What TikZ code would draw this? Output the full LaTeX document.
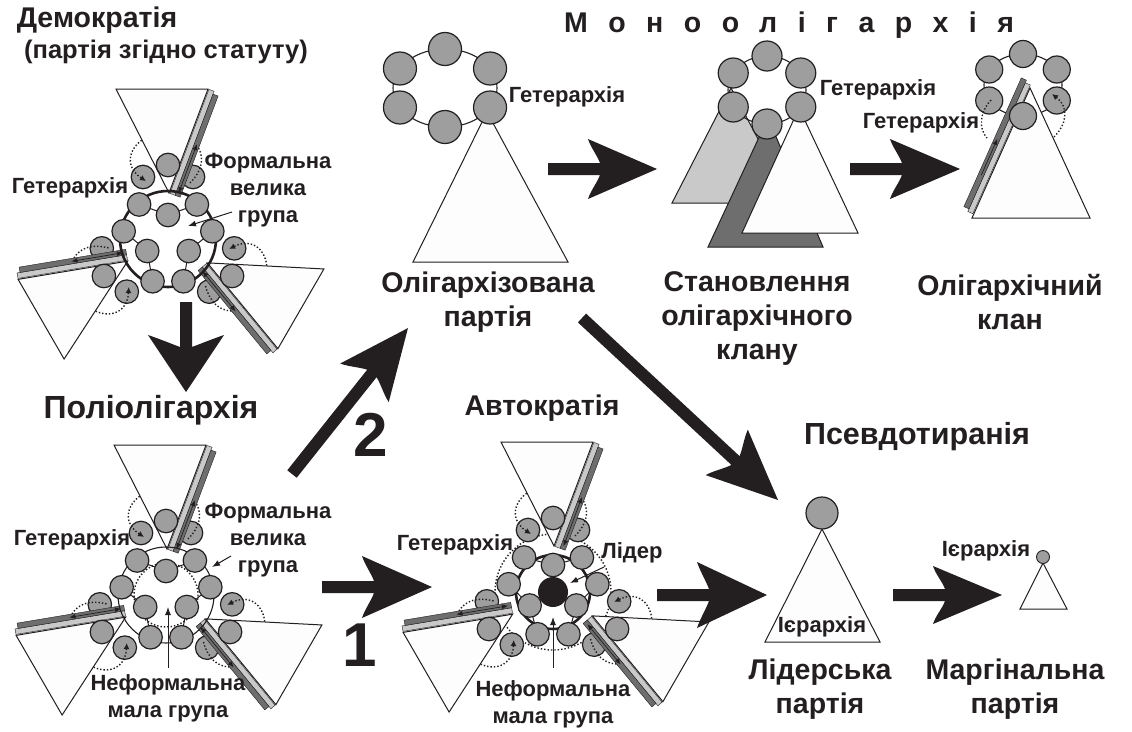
\documentclass[tikz,border=0pt]{standalone}
\usepackage{fontspec}
\setmainfont{Liberation Sans}
\usetikzlibrary{arrows.meta,calc}

\definecolor{ink}{RGB}{35,31,32}
\definecolor{ballgray}{RGB}{158,158,158}
\definecolor{stripelight}{RGB}{200,201,200}
\definecolor{stripedark}{RGB}{110,110,110}
\definecolor{paper}{RGB}{253,253,253}

\newcommand\fatarrow[4]{%
  \path let \p1=($(#2)-(#1)$) in
    \pgfextra{\pgfmathsetmacro\fatang{atan2(\y1,\x1)}\pgfmathsetmacro\fatlen{veclen(\x1,\y1)}\global\let\fatang\fatang\global\let\fatlen\fatlen};
  \fill[ink,shift={(#1)},rotate=\fatang]
    (0,-6) -- ({\fatlen-#3+12},-6)
    .. controls ({\fatlen-#3+9},-14) and ({\fatlen-#3+3},{-#4+9}) .. ({\fatlen-#3},-#4)
    -- (\fatlen,0) -- ({\fatlen-#3},#4)
    .. controls ({\fatlen-#3+3},{#4-9}) and ({\fatlen-#3+9},14) .. ({\fatlen-#3+12},6)
    -- (0,6) -- cycle;}

\tikzset{
  branchback/.pic={
    \node[ball] (-l) at (-25,-62) {};
    \node[ball] (-r) at (25,-62) {};
    \draw[loopdots,-{Latex[length=6pt,width=6pt]}] (22,-56) .. controls (46,-80) and (30,-106) .. (-2,-106) .. controls (-34,-106) and (-50,-76) .. (-22,-58);
    \filldraw[tri] (-52,-150) -- (40,-150) -- (1,-46) -- cycle;
    \filldraw[fill=stripelight,draw=ink,line width=0.4pt] (40.9,-149.6) -- (46.1,-147.7) -- (7.1,-43.7) -- (1.9,-45.6) -- cycle;
    \filldraw[fill=stripedark,draw=ink,line width=0.4pt] (45,-144.9) -- (50.1,-143) -- (12.2,-41.8) -- (7.1,-43.7) -- cycle;
    \draw[ink,line width=0.7pt,{Latex[length=6pt,width=5pt]}-{Latex[length=6pt,width=5pt]}] (28.9,-94.8) -- (10.6,-45.9);
    \node[ball] (-t) at (0,-74) {};
  },
  branchfront/.pic={
    \draw[ink,line width=1pt] (-28.9,-34.5) -- (0,-#1) -- (28.9,-34.5);
    \node[ball] (-a) at (-28.9,-34.5) {};
    \node[ball] (-b) at (28.9,-34.5) {};
    \node[ball] (-c) at (0,-#1) {};
  }
}

\begin{document}
\begin{tikzpicture}[x=1pt,y=-1pt,
    ball/.style={circle,draw=ink,fill=ballgray,line width=1.2pt,inner sep=0pt,minimum size=23.5pt},
    tri/.style={draw=ink,fill=paper,line width=1pt},
    loopdots/.style={draw=ink,line width=1.4pt,dotted},
    lbl/.style={draw=ink,line width=1pt,-{Latex[length=8pt,width=6pt]}},
    title/.style={text=ink,font=\fontsize{28.5}{34}\selectfont\bfseries,align=center,inner sep=0pt},
    small/.style={text=ink,font=\fontsize{22}{27}\selectfont\bfseries,align=center,inner sep=0pt}]

  \useasboundingbox (0,0) rectangle (1132,731);
  \fill[white] (0,0) rectangle (1132,731);

  \coordinate (c1) at (168,239);
  \coordinate (c2) at (166,595);
  \coordinate (c3) at (553,592);

  % democracy
  \foreach \a in {0,120,240} \pic[rotate=\a] (demb\a) at (c1) {branchback};
  \draw[ink,line width=2.6pt] (c1) circle (48);
  \foreach \a in {0,120,240} \pic[rotate=\a] (demf\a) at (c1) {branchfront=24};

  % polyoligarchy
  \foreach \a in {0,120,240} \pic[rotate=\a] (polb\a) at (c2) {branchback};
  \draw[ink,line width=1.1pt] (c2) circle (48);
  \draw[loopdots] (c2) circle (32);
  \foreach \a in {0,120,240} \pic[rotate=\a] (polf\a) at (c2) {branchfront=24};

  % autocracy
  \draw[loopdots] (c3) circle (58);
  \foreach \a in {0,120,240} \pic[rotate=\a] (autb\a) at (c3) {branchback};
  \draw[ink,line width=2.6pt] (c3) circle (37);
  \foreach \a in {0,120,240} \pic[rotate=\a] (autf\a) at (c3) {branchfront=27};
  \node[circle,fill=ink,inner sep=0pt,minimum size=30pt] (leader) at (c3) {};

  % oligarchised party
  \coordinate (op) at (445,88);
  \filldraw[tri] (487,112) -- (413,262) -- (568,262) -- cycle;
  \draw[ink,line width=1.1pt] (op) ellipse [x radius=52, y radius=39];
  \foreach \i in {1,...,6}
    \node[ball,minimum size=33pt] (op\i) at ($(op)+({52*cos(60*\i-30)},{39*sin(60*\i-30)})$) {};

  % clan in the making
  \coordinate (cl) at (767,90);
  \filldraw[draw=ink,fill=stripelight,line width=1pt] (731,88) -- (672,203) -- (792,203) -- cycle;
  \filldraw[draw=ink,fill=stripedark,line width=1pt] (768,118) -- (708,247) -- (823,247) -- cycle;
  \filldraw[tri] (799,108) -- (742,233) -- (858,233) -- cycle;
  \draw[ink,line width=1.1pt] (cl) ellipse [x radius=39, y radius=34];
  \foreach \i in {1,...,6}
    \node[ball,minimum size=30pt] (cl\i) at ($(cl)+({39*cos(60*\i-30)},{34*sin(60*\i-30)})$) {};

  % oligarchic clan
  \coordinate (kl) at (1023,85);
  \draw[ink,line width=1.1pt] (kl) ellipse [x radius=39, y radius=31];
  \foreach \i in {1,3,4,5,6}
    \node[ball,minimum size=27pt] (kl\i) at ($(kl)+({39*cos(60*\i-30)},{31*sin(60*\i-30)})$) {};
  \draw[loopdots] (991,100) .. controls (980,112) and (978,128) .. (987,138);
  \draw[loopdots,-{Latex[length=6pt,width=6pt]}] (1054,137) .. controls (1066,125) and (1070,108) .. (1052,94);
  \filldraw[tri] (1030,88) -- (972,218) -- (1090,218) -- cycle;
  \filldraw[fill=stripelight,draw=ink,line width=0.4pt] (1030.3,85) -- (1025.3,82.8) -- (967.8,211.5) -- (972.8,213.7) -- cycle;
  \filldraw[fill=stripedark,draw=ink,line width=0.4pt] (1026.4,80.2) -- (1021.3,77.9) -- (963.9,206.6) -- (969,208.9) -- cycle;
  \draw[ink,line width=0.7pt,-{Latex[length=6pt,width=5pt]}] (981.2,175.3) -- (997.4,138.9);
  \node[ball,minimum size=27pt] (kl2) at ($(kl)+(0,31)$) {};

  % leader party and marginal party
  \filldraw[tri] (822,529) -- (765,642) -- (880,642) -- cycle;
  \node[ball,minimum size=32pt] (lp) at (822,513) {};
  \filldraw[tri] (1043,563) -- (1020,609) -- (1067,609) -- cycle;
  \node[ball,minimum size=13pt,line width=0.9pt] (mp) at (1043,557) {};

  % titles
  \node[title] (demtitle) at (97,20) {Демократія};
  \node[title,font=\fontsize{25.5}{30}\selectfont\bfseries] (statut) at (166,52) {(партія згідно статуту)};
  \node[title,font=\fontsize{32}{38}\selectfont\bfseries] (poltitle) at (151,410) {Поліолігархія};
  \node[title] (auttitle) at (542,408) {Автократія};
  \node[title,font=\fontsize{30.5}{36}\selectfont\bfseries] (psetitle) at (917,437) {Псевдотиранія};
  \node[title] (monotitle) at (789,25) {\addfontfeature{LetterSpace=72}Моноолігархія};
  \node[title] (optitle) at (488,302) {Олігархізована\\партія};
  \node[title] (cltitle) at (757,319) {Становлення\\олігархічного\\клану};
  \node[title] (kltitle) at (1010,302) {Олігархічний\\клан};
  \node[title] (lptitle) at (820,689) {Лідерська\\партія};
  \node[title] (mptitle) at (1015,689) {Маргінальна\\партія};
  \node[title,font=\fontsize{62}{62}\selectfont\bfseries] (one) at (360,645) {1};
  \node[title,font=\fontsize{62}{62}\selectfont\bfseries] (two) at (371,435) {2};

  % small labels
  \node[small] (het1) at (70,188) {Гетерархія};
  \node[small] (form1) at (268,190) {Формальна\\велика\\група};
  \node[small] (het2) at (72,540) {Гетерархія};
  \node[small] (form2) at (268,540) {Формальна\\велика\\група};
  \node[small] (inf2) at (168,698) {Неформальна\\мала група};
  \node[small] (het3) at (455,545) {Гетерархія};
  \node[small] (lid3) at (632,553) {Лідер};
  \node[small] (inf3) at (553,704) {Неформальна\\мала група};
  \node[small] (hetop) at (567,97) {Гетерархія};
  \node[small] (hetcl) at (878,90) {Гетерархія};
  \node[small] (hetkl) at (921,123) {Гетерархія};
  \node[small] (ierlp) at (822,627) {Ієрархія};
  \node[small] (iermp) at (986,551) {Ієрархія};

  % label pointers
  \coordinate (f1a) at (232,212); \coordinate (f1b) at (188,226);
  \coordinate (f2a) at (231,556); \coordinate (f2b) at (212,567);
  \coordinate (n2a) at (168,668); \coordinate (n2b) at (168,607);
  \coordinate (l3a) at (604,567); \coordinate (l3b) at (570,583);
  \coordinate (n3a) at (553,668); \coordinate (n3b) at (553,617);
  \draw[lbl] (f1a) -- (f1b);
  \draw[lbl] (f2a) -- (f2b);
  \draw[lbl] (n2a) -- (n2b);
  \draw[lbl] (l3a) -- (l3b);
  \draw[lbl] (n3a) -- (n3b);

  % big arrows
  \coordinate (a1s) at (186,302); \coordinate (a1e) at (186,392);
  \coordinate (a2s) at (548,169); \coordinate (a2e) at (657,169);
  \coordinate (a3s) at (850,169); \coordinate (a3e) at (960,169);
  \coordinate (a4s) at (322,587); \coordinate (a4e) at (432,587);
  \coordinate (a5s) at (657,595); \coordinate (a5e) at (767,595);
  \coordinate (a6s) at (893,595); \coordinate (a6e) at (1002,595);
  \coordinate (a7s) at (582,318); \coordinate (a7e) at (778,500);
  \coordinate (a8s) at (292,474); \coordinate (a8e) at (408,328);
  \fatarrow{a1s}{a1e}{57}{38}
  \fatarrow{a2s}{a2e}{69}{30}
  \fatarrow{a3s}{a3e}{70}{30}
  \fatarrow{a4s}{a4e}{70}{31}
  \fatarrow{a5s}{a5e}{70}{33}
  \fatarrow{a6s}{a6e}{69}{29}
  \fatarrow{a7s}{a7e}{70}{31}
  \fatarrow{a8s}{a8e}{70}{31}
\end{tikzpicture}
\end{document}
